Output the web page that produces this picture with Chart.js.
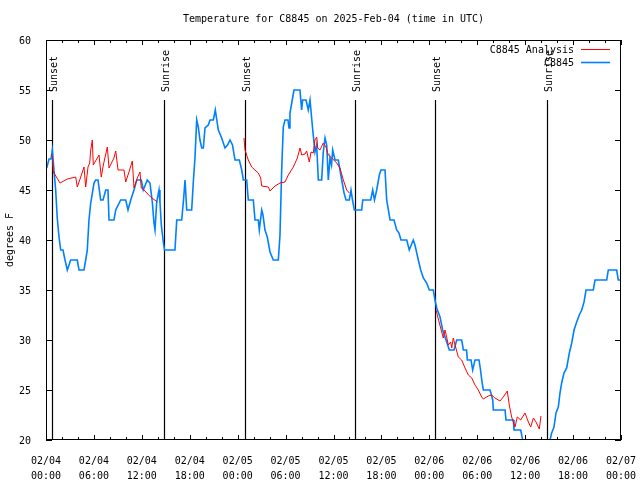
<!DOCTYPE html>
<html>
<head>
<meta charset="utf-8">
<script src="https://cdn.jsdelivr.net/npm/chart.js@4.4.1/dist/chart.umd.min.js"></script>
<style>
  body { margin: 0; background: #fff; }
  canvas { display: block; }
</style>
</head>
<body>
<canvas id="myChart" width="640" height="480"></canvas>
<script>
// heures depuis 2025-02-04 00:00 UTC
const stationHours = [0.09,0.38,0.63,0.79,1.21,1.41,1.63,1.84,2.13,2.38,2.67,3.09,3.92,4.13,4.76,4.97,5.17,5.38,5.6,6.01,6.22,6.51,6.85,7.14,7.48,7.76,7.89,8.51,8.73,9.35,9.98,10.27,10.61,11.02,11.36,11.93,12.18,12.68,13.02,13.31,13.52,13.65,13.86,14.15,14.27,14.44,14.69,14.84,16.15,16.37,16.99,17.22,17.41,17.62,18.24,18.44,18.66,18.87,19.07,19.28,19.5,19.7,19.91,20.32,20.54,20.95,21.2,21.35,21.58,22,22.41,22.73,23.04,23.35,23.67,24.21,24.51,24.71,25.13,25.33,25.96,26.17,26.59,26.71,27.01,27.17,27.42,27.71,28.05,28.46,29.09,29.3,29.51,29.71,29.93,30.3,30.43,30.55,30.77,31.05,31.8,32.01,32.14,32.56,32.84,33.06,33.4,33.68,33.89,34.1,34.52,34.72,34.94,35.15,35.35,35.56,35.75,35.9,36.19,36.6,36.81,37.03,37.32,37.57,37.98,38.19,38.38,38.61,39.53,39.66,40.66,40.91,41.13,41.41,41.74,41.95,42.45,42.66,43.08,43.58,43.91,44.2,44.45,45.17,45.49,45.99,46.2,46.62,46.92,47.25,47.67,48,48.5,48.71,48.92,49.34,49.67,50.09,50.5,51.09,51.43,52.05,52.26,52.66,52.76,53.22,53.43,53.72,54.22,54.41,54.56,54.76,55.6,55.94,56.01,57.48,57.6,58.52,58.6,59.44,59.69,59.8,62.9,63.11,63.32,63.61,63.86,64.15,64.36,64.57,64.86,65.2,65.53,65.83,66.12,66.45,66.78,67.08,67.37,67.62,68.53,68.75,70.21,70.41,71.46,71.66,72];
const stationTemps = [47.2,48.1,48.1,49,45,42.2,40.3,39,39,38,37,38,38,37,37,38,39,42,43.7,45.7,46,46,44,44,45,45,42,42,43,44,44,43,44,45,46,46,45,46,45.7,43.8,41.7,41,43.8,45,43.8,41.5,39.8,39,39,42,42,44,46,43,43,45.7,48.3,52,51.3,50,49.2,49.2,51.2,51.5,52,52,53,52.2,51,50.2,49.2,49.5,50,49.5,48,48,47,46,46,44,44,42,42,41,43,42.5,41,40.3,38.8,38,38,40.5,47,51.3,52,52,51.2,52.7,53.7,55,55,53,54,54,53,54,51,48.8,49.5,46,46,48.8,50.2,49.5,46,48.2,47.5,49,48,48,47,46,44.7,44,44,45,44,43,43,44,44,45,44,45,46.5,47,47,44,42,42,41,40.7,40,40,39,40,39.5,38,37,36.2,35.7,35,35,34,33.2,32.3,31,30,29,29,30,30,29,29,28,28,27,28,28,27,26,25,25,24,23,23,22,22,21,21,20,19,19,20,20.7,21.3,22.7,23.3,24.7,25.7,26.7,27.2,28.7,29.7,31,31.8,32.5,33,33.8,35,35,36,36,37,37,36,36];

const analysisHours1 = [0.66,0.79,0.91,1.0,1.75,2.67,3.72,3.92,4.35,4.76,4.97,5.26,5.47,5.6,5.8,5.92,6.64,6.92,7.18,7.68,7.89,8.51,8.73,9.02,9.77,9.98,10.39,10.81,11.02,11.43,11.77,11.93,12.27,13.11,13.94];
const analysisTemps1 = [48.6,48.3,46.8,46.7,45.7,46.1,46.3,45.3,46.3,47.3,45.3,47.3,47.7,49,50,47.5,48.5,46.3,47.5,49.3,47.2,48.2,48.9,47,47,45.8,46.8,47.9,45.2,46.2,46.8,45.2,45,44.3,43.8];
const analysisHours2 = [24.79,24.92,25.33,25.76,26.58,26.88,27.01,27.84,28.05,28.68,29.3,29.93,30.34,30.97,31.47,31.81,32.02,32.43,32.64,32.97,33.18,33.47,33.68,33.9,34.02,34.31,34.72,35.06,35.35,35.78,36.4,36.81,37.23,37.65,37.98];
const analysisTemps2 = [50.2,49,48,47.3,46.7,46.2,45.4,45.3,44.9,45.4,45.7,45.8,46.5,47.3,48.2,49.2,48.5,48.6,48.9,47.8,48.8,48.7,50,50.3,49.2,49,49.7,49.3,48.5,48.2,47.7,47.2,46,45,44.7];
const analysisHours3 = [48.84,49.25,49.55,49.75,49.96,50.17,50.38,50.68,50.8,51.0,51.22,51.63,52.05,52.47,52.88,53.31,53.72,54.13,54.56,54.76,55.38,55.81,56.22,56.85,57.26,57.76,58.01,58.31,58.73,59.01,59.44,59.98,60.4,60.69,61.03,61.36,61.77,61.98];
const analysisTemps3 = [33,31.7,30.8,30.2,31,30.3,29.5,29.8,29.2,30.2,29.5,28.3,28,27.2,26.5,26.2,25.5,25,24.3,24.1,24.4,24.5,24.2,23.9,24.3,24.9,23.5,22.3,21.3,22.3,22,22.7,21.8,21.3,22.2,21.8,21.1,22.4];

const sunHours = [0.79, 14.81, 24.86, 38.73, 48.77, 62.77];
const sunLabels = ['Sunset', 'Sunrise', 'Sunset', 'Sunrise', 'Sunset', 'Sunrise'];

const yTicks = [20, 25, 30, 35, 40, 45, 50, 55, 60];

const titleText = 'Temperature for C8845 on 2025-Feb-04 (time in UTC)';
const yAxisTitle = 'degrees F';
const FONT = '10px "DejaVu Sans Mono", "Liberation Mono", monospace';

function pairs(xs, ys) {
    return xs.map((x, i) => ({ x: x, y: ys[i] }));
}

// segments de l'analyse séparés par des trous
const analysisData = pairs(analysisHours1, analysisTemps1)
    .concat([{ x: 14.5, y: null }])
    .concat(pairs(analysisHours2, analysisTemps2))
    .concat([{ x: 43, y: null }])
    .concat(pairs(analysisHours3, analysisTemps3));

const gnuplotDeco = {
    id: 'gnuplotDeco',
    beforeDatasetsDraw(chart) {
        const ctx = chart.ctx;
        const a = chart.chartArea;
        const xs = chart.scales.x;
        ctx.save();
        // lignes lever / coucher du soleil
        ctx.strokeStyle = '#000';
        ctx.lineWidth = 1.2;
        ctx.fillStyle = '#000';
        ctx.font = FONT;
        sunHours.forEach((h, i) => {
            const px = Math.round(xs.getPixelForValue(h)) + 0.5;
            ctx.beginPath();
            ctx.moveTo(px, a.top + (a.bottom - a.top) * 0.15);
            ctx.lineTo(px, a.bottom);
            ctx.stroke();
            ctx.save();
            ctx.translate(px + 4.5, a.top + (a.bottom - a.top) * 0.13);
            ctx.rotate(-Math.PI / 2);
            ctx.textAlign = 'left';
            ctx.textBaseline = 'alphabetic';
            ctx.fillText(sunLabels[i], 0, 0);
            ctx.restore();
        });
        ctx.restore();
    },
    afterDraw(chart) {
        const ctx = chart.ctx;
        const a = chart.chartArea;
        const xs = chart.scales.x;
        const ys = chart.scales.y;
        ctx.save();
        ctx.strokeStyle = '#000';
        ctx.fillStyle = '#000';
        ctx.lineWidth = 1;
        // cadre
        ctx.strokeRect(Math.round(a.left) + 0.5, Math.round(a.top) + 0.5,
            Math.round(a.right - a.left) - 1, Math.round(a.bottom - a.top) - 1);
        // graduations x (haut et bas)
        ctx.beginPath();
        for (let h = 0; h <= 72; h += 2) {
            const px = Math.round(xs.getPixelForValue(h)) + 0.5;
            const len = (h % 6 === 0) ? 5 : 3;
            ctx.moveTo(px, a.bottom);
            ctx.lineTo(px, a.bottom - len);
            ctx.moveTo(px, a.top);
            ctx.lineTo(px, a.top + len);
        }
        // graduations y (gauche et droite)
        yTicks.forEach(t => {
            const py = Math.round(ys.getPixelForValue(t)) + 0.5;
            ctx.moveTo(a.left, py);
            ctx.lineTo(a.left + 6, py);
            ctx.moveTo(a.right, py);
            ctx.lineTo(a.right - 6, py);
        });
        ctx.stroke();

        // titre
        ctx.font = FONT;
        ctx.textAlign = 'center';
        ctx.textBaseline = 'middle';
        ctx.fillText(titleText, (a.left + a.right) / 2, 19);

        // titre axe y
        ctx.save();
        ctx.translate(10, (a.top + a.bottom) / 2);
        ctx.rotate(-Math.PI / 2);
        ctx.fillText(yAxisTitle, 0, 0);
        ctx.restore();

        // légende
        chart.data.datasets.forEach((ds, i) => {
            const y = a.top + 10 + i * 13;
            ctx.textAlign = 'right';
            ctx.textBaseline = 'middle';
            ctx.fillStyle = '#000';
            ctx.fillText(ds.label, a.right - 47, y);
            ctx.strokeStyle = ds.borderColor;
            ctx.lineWidth = ds.borderWidth;
            ctx.beginPath();
            ctx.moveTo(a.right - 40, y - 0.5);
            ctx.lineTo(a.right - 11, y - 0.5);
            ctx.stroke();
        });
        ctx.restore();
    }
};

const ctx = document.getElementById('myChart').getContext('2d');
const myChart = new Chart(ctx, {
    type: 'line',
    data: {
        datasets: [{
            label: 'C8845 Analysis',
            data: analysisData,
            borderColor: '#ff0000',
            borderWidth: 1,
            spanGaps: false
        }, {
            label: 'C8845',
            data: pairs(stationHours, stationTemps),
            borderColor: '#0080ff',
            borderWidth: 1.6
        }]
    },
    options: {
        responsive: false,
        devicePixelRatio: 1,
        animation: false,
        elements: { point: { radius: 0 }, line: { tension: 0 } },
        layout: { padding: { top: 40, right: 19, left: 0, bottom: 0 } },
        plugins: {
            legend: { display: false },
            tooltip: { enabled: false },
            title: { display: false }
        },
        scales: {
            x: {
                type: 'linear',
                min: 0,
                max: 72,
                afterFit(scale) {
                    scale.height = 40;
                    scale.paddingLeft = 0;
                    scale.paddingRight = 0;
                },
                grid: { display: false },
                border: { display: false },
                ticks: {
                    stepSize: 6,
                    autoSkip: false,
                    maxRotation: 0,
                    padding: 6,
                    color: '#000',
                    font: { family: '"DejaVu Sans Mono", monospace', size: 10, lineHeight: 1.5 },
                    callback: function (v) {
                        const day = 4 + Math.floor(v / 24);
                        const hh = v % 24;
                        return ['02/0' + day, (hh < 10 ? '0' : '') + hh + ':00'];
                    }
                }
            },
            y: {
                min: 20,
                max: 60,
                afterFit(scale) {
                    scale.width = 46;
                    scale.paddingTop = 0;
                    scale.paddingBottom = 0;
                },
                grid: { display: false },
                border: { display: false },
                afterBuildTicks(scale) { scale.ticks = yTicks.map(v => ({ value: v })); },
                ticks: {
                    padding: 7,
                    labelOffset: 1,
                    color: '#000',
                    font: { family: '"DejaVu Sans Mono", monospace', size: 10 }
                }
            }
        }
    },
    plugins: [gnuplotDeco]
});
</script>
</body>
</html>
